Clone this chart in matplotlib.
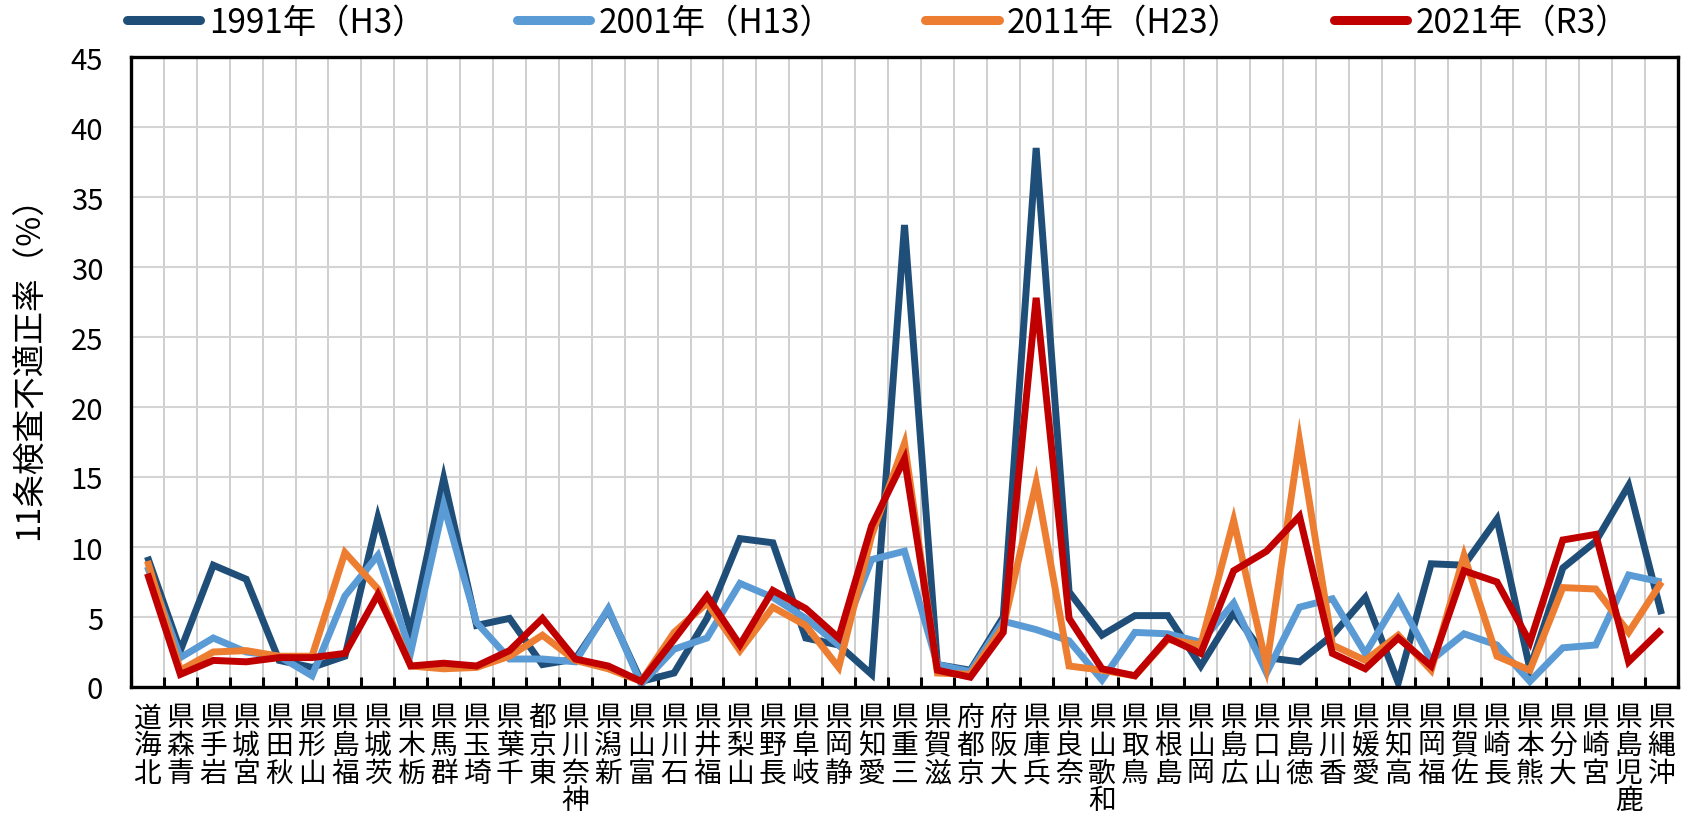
import numpy as np
import matplotlib
matplotlib.use("Agg")
import matplotlib.pyplot as plt
from matplotlib.ticker import MultipleLocator

plt.rcParams['font.family'] = ['Noto Sans CJK JP', 'DejaVu Sans']

prefectures = [
    "北海道", "青森県", "岩手県", "宮城県", "秋田県", "山形県", "福島県",
    "茨城県", "栃木県", "群馬県", "埼玉県", "千葉県", "東京都", "神奈川県",
    "新潟県", "富山県", "石川県", "福井県", "山梨県", "長野県", "岐阜県",
    "静岡県", "愛知県", "三重県", "滋賀県", "京都府", "大阪府", "兵庫県",
    "奈良県", "和歌山県", "鳥取県", "島根県", "岡山県", "広島県", "山口県",
    "徳島県", "香川県", "愛媛県", "高知県", "福岡県", "佐賀県", "長崎県",
    "熊本県", "大分県", "宮崎県", "鹿児島県", "沖縄県",
]

y1991 = [9.3, 2.6, 8.7, 7.7, 1.9, 1.4, 2.2, 12.1, 3.9, 14.9, 4.4, 4.9, 1.6, 2.0,
         5.5, 0.4, 1.0, 4.9, 10.6, 10.3, 3.5, 3.0, 0.9, 33.0, 1.6, 1.2, 5.0, 38.5,
         6.8, 3.7, 5.1, 5.1, 1.5, 5.3, 2.1, 1.8, 3.7, 6.4, 0.3, 8.8, 8.7, 12.0,
         1.3, 8.5, 10.4, 14.4, 5.2]
y2001 = [8.6, 2.1, 3.5, 2.5, 2.2, 0.8, 6.5, 9.4, 2.5, 13.0, 4.6, 2.0, 2.0, 1.8,
         5.6, 0.2, 2.7, 3.5, 7.4, 6.4, 4.9, 3.0, 9.1, 9.7, 1.6, 1.1, 4.7, 4.1,
         3.3, 0.5, 3.9, 3.8, 3.2, 6.0, 1.0, 5.7, 6.3, 2.4, 6.3, 1.9, 3.8, 3.0,
         0.4, 2.8, 3.0, 8.0, 7.5]
y2011 = [9.0, 1.2, 2.5, 2.6, 2.2, 2.2, 9.6, 7.0, 1.5, 1.3, 1.4, 2.2, 3.7, 1.9,
         1.3, 0.4, 3.9, 6.0, 2.6, 5.7, 4.4, 1.4, 10.8, 17.4, 1.0, 0.9, 4.3, 14.6,
         1.5, 1.2, 0.8, 3.4, 3.0, 11.9, 1.5, 17.6, 3.0, 1.9, 3.7, 1.2, 9.4, 2.2,
         1.2, 7.1, 7.0, 3.9, 7.5]
y2021 = [8.1, 0.9, 1.9, 1.8, 2.1, 2.1, 2.4, 6.6, 1.5, 1.7, 1.5, 2.6, 4.9, 2.0,
         1.5, 0.4, 3.4, 6.5, 3.0, 6.9, 5.6, 3.5, 11.5, 16.3, 1.2, 0.7, 3.9, 27.8,
         4.9, 1.3, 0.8, 3.5, 2.4, 8.3, 9.7, 12.2, 2.4, 1.3, 3.5, 1.5, 8.3, 7.5,
         3.2, 10.5, 10.9, 1.8, 4.1]

series = [
    ("1991年（H3）", y1991, "#1F4E79"),
    ("2001年（H13）", y2001, "#5B9BD5"),
    ("2011年（H23）", y2011, "#ED7D31"),
    ("2021年（R3）", y2021, "#C00000"),
]

fig = plt.figure(figsize=(16.9, 8.37), dpi=100)
ax = fig.add_axes([131 / 1690, 1 - 688 / 837, 1547 / 1690, 630 / 837])

x = np.arange(len(prefectures))
for label, vals, color in series:
    ax.plot(x, vals, color=color, lw=5.0, label=label,
            solid_joinstyle='miter', solid_capstyle='butt')

ax.set_xlim(-0.5, len(prefectures) - 0.5)
ax.set_ylim(0, 45)
ax.yaxis.set_major_locator(MultipleLocator(5))

# category labels: characters stacked, last one at the top
ax.set_xticks(x)
ax.set_xticklabels(["\n".join(reversed(p)) for p in prefectures],
                   fontsize=20, va='top', linespacing=0.9)
ax.set_xticks(np.arange(-0.5, len(prefectures), 1), minor=True)
ax.tick_params(axis='x', which='major', length=0, pad=11)
ax.tick_params(axis='x', which='minor', direction='in', length=7, width=2.2,
               color='black')
ax.tick_params(axis='y', length=0, pad=20, labelsize=21)

ax.grid(True, axis='y', which='major', color='#d4d4d4', lw=1.5)
ax.grid(True, axis='x', which='minor', color='#cccccc', lw=1.3)
ax.set_axisbelow(True)

for s in ax.spines.values():
    s.set_linewidth(2.4)
    s.set_color('black')

fig.text(30 / 1690, 1 - 360 / 837, "11条検査不適正率（%）", rotation=90,
         ha='center', va='center', fontsize=23.5)

leg = fig.legend(loc='center left', bbox_to_anchor=(127 / 1690, 1 - 23 / 837),
                 ncol=4, frameon=False, fontsize=24, handlelength=2.2,
                 handletextpad=0.25, columnspacing=2.75, borderpad=0,
                 borderaxespad=0)
for h in leg.get_lines():
    h.set_linewidth(6.5)
    h.set_solid_capstyle('round')

fig.savefig("out.png", dpi=100)
